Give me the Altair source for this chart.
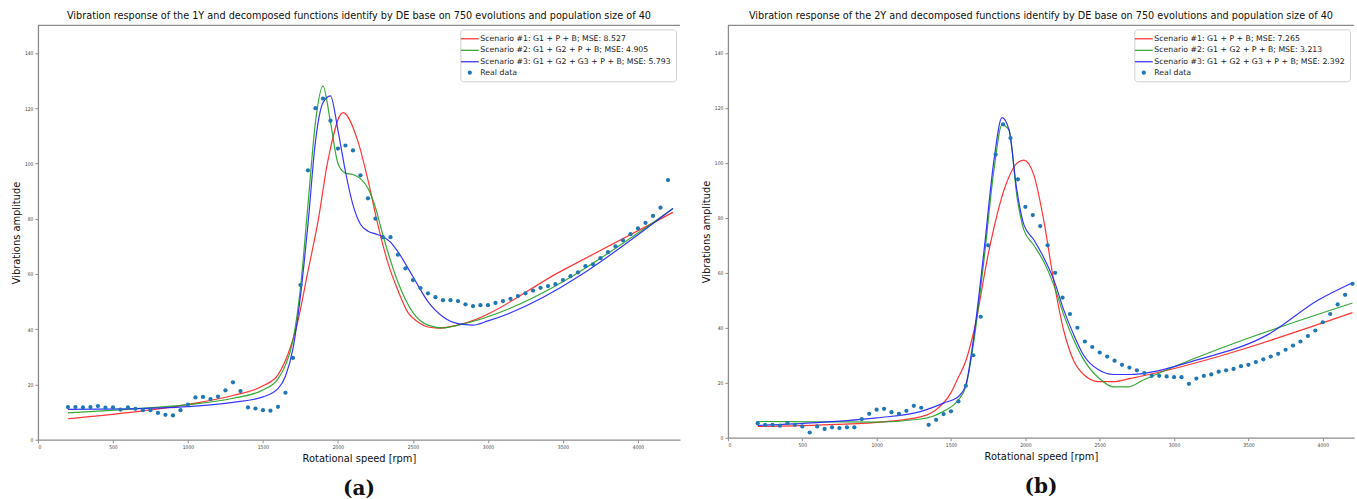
import altair as alt
import pandas as pd

# ---------------- data: panel (a) ----------------
rpm_a = list(range(200, 4201, 50))
real_a = [11.8, 11.8, 11.7, 11.8, 12.2, 11.6, 11.7, 10.9, 11.7, 11.2,
          10.7, 10.7, 9.7, 9.0, 8.8, 10.7, 12.7, 15.3, 15.5, 14.7,
          15.6, 17.9, 20.8, 17.6, 11.7, 11.3, 10.7, 10.5, 11.9, 17.0,
          29.6, 56, 97.5, 120, 123.5, 115.5, 105.4, 106.5, 104.7, 95.7,
          87.4, 80, 73.3, 73.3, 67, 62, 57.8, 54.9, 53, 51.6,
          50.5, 50.5, 50.2, 49, 48.4, 48.7, 48.7, 49.5, 50.2, 51,
          52, 53, 54, 55, 55.6, 56.3, 57.8, 59.2, 60.6, 62.8,
          63.5, 65.7, 67.9, 70, 72.2, 74.4, 76.5, 78.5, 81, 84, 94]

s1a_x = [200, 600, 1000, 1300, 1500, 1600, 1667, 1733, 1800, 1867, 1933, 2033,
         2133, 2200, 2267, 2333, 2400, 2467, 2533, 2600, 2667, 2800, 3500, 4233]
s1a_y = [7.6, 9.8, 12.8, 16, 19.5, 23.5, 31, 43, 61, 79, 101, 118.4,
         108, 94, 77.6, 64, 54, 46, 42.6, 40.8, 40.4, 41.5, 61.4, 82.3]
s2a_x = [200, 600, 1000, 1300, 1500, 1600, 1650, 1700, 1750, 1800, 1850, 1900,
         1950, 2000, 2050, 2100, 2150, 2200, 2250, 2300, 2400, 2500, 2600, 2700,
         2800, 4233]
s2a_y = [9.7, 11, 12.7, 15, 18, 22, 27, 36, 55, 85, 115, 128,
         115, 100, 96.5, 96, 94.5, 91, 84, 74, 57, 46, 41.5, 40.5,
         41.5, 83.7]
s3a_x = [200, 600, 1000, 1300, 1500, 1600, 1650, 1700, 1750, 1800, 1850, 1900,
         1950, 2000, 2050, 2100, 2150, 2200, 2250, 2300, 2350, 2400, 2500, 2600,
         2700, 2800, 2900, 3000, 4233]
s3a_y = [11, 11.2, 12, 13.5, 15.5, 18.5, 23, 33, 52, 78, 108, 122,
         124.5, 112, 97, 85, 78, 75.5, 74.5, 73.5, 71.5, 68, 59, 50,
         44.5, 42, 41.5, 43, 83.7]
labels_a = ["Scenario #1: G1 + P + B; MSE: 8.527",
            "Scenario #2: G1 + G2 + P + B; MSE: 4.905",
            "Scenario #3: G1 + G2 + G3 + P + B; MSE: 5.793",
            "Real data"]
title_a = ("Vibration response of the 1Y and decomposed functions identify by DE "
           "base on 750 evolutions and population size of 40")

# ---------------- data: panel (b) ----------------
rpm_b = list(range(200, 4201, 50))
real_b = [5.3, 4.7, 4.7, 4.4, 5.3, 4.7, 4.1, 1.9, 4.1, 3.2,
          3.8, 3.5, 3.8, 3.8, 6.8, 8.7, 10.2, 10.5, 9.3, 8.7,
          9.8, 11.6, 10.9, 4.7, 6.5, 8.6, 9.6, 13.2, 18.9, 30,
          44, 70, 103, 114, 109, 94, 84, 81, 77, 70,
          60, 51, 45, 40, 35, 33, 31, 29.5, 28, 26.5,
          25.5, 24.5, 23.5, 22.5, 22.5, 22.3, 22, 22, 19.6, 21.5,
          22.5, 23, 24, 24.5, 25, 26, 26.5, 27.5, 28.5, 29.5,
          30.5, 32, 33.5, 35, 37, 39, 42, 45, 48.5, 52, 56]

s1b_x = [200, 600, 1000, 1300, 1400, 1500, 1541, 1600, 1655, 1755, 1856, 1956,
         1990, 2057, 2124, 2191, 2258, 2325, 2392, 2492, 2593, 2700, 4200]
s1b_y = [4.1, 4.6, 5.6, 7.7, 10.2, 16.4, 21, 28, 39, 68, 90, 100.4,
         101, 95.6, 79, 57, 39, 28, 23, 20.4, 20.4, 21.5, 45.5]
s2b_x = [200, 600, 1000, 1300, 1450, 1550, 1600, 1655, 1722, 1789, 1843, 1890,
         1943, 1990, 2057, 2124, 2191, 2258, 2325, 2392, 2492, 2593, 2693, 2794,
         4200]
s2b_y = [5.9, 5.8, 5.7, 6.8, 9.6, 13.8, 18.7, 35.6, 64.7, 97.5, 113.8, 112,
         88, 75.6, 70, 64, 55.6, 44.7, 35.6, 28.4, 21.8, 18.5, 18.5, 21,
         49]
s3b_x = [200, 600, 1000, 1300, 1450, 1550, 1600, 1655, 1722, 1789, 1843, 1890,
         1943, 1990, 2057, 2124, 2191, 2258, 2325, 2392, 2492, 2593, 2693, 3162,
         3631, 3967, 4200]
s3b_y = [4.5, 5.5, 7.2, 9.6, 12.6, 15, 19.3, 37.5, 68, 101, 116.4, 112,
         90, 77.5, 72, 65.5, 57.5, 46.5, 37.5, 30, 24.7, 23, 23, 28.4,
         37.5, 50, 56.4]
labels_b = ["Scenario #1: G1 + P + B; MSE: 7.265",
            "Scenario #2: G1 + G2 + P + B; MSE: 3.213",
            "Scenario #3: G1 + G2 + G3 + P + B; MSE: 2.392",
            "Real data"]
title_b = ("Vibration response of the 2Y and decomposed functions identify by DE "
           "base on 750 evolutions and population size of 40")

x_ticks = [0, 500, 1000, 1500, 2000, 2500, 3000, 3500, 4000]
y_ticks = [0, 20, 40, 60, 80, 100, 120, 140]

FONT = "Liberation Sans Narrow, DejaVu Sans Condensed, Open Sans, sans-serif"
LEG_FONT = "DejaVu Sans"
LINE_PATH = "M-1.7,-0.11H1.7V0.11H-1.7Z"
COLORS = ["#ff2020", "#20a020", "#2020ff", "#1f77b4"]


def panel(title, rpm, real, curves, labels, tag, width, height, xmax):
    frames = []
    for name, (xs, ys) in zip(labels[:3], curves):
        frames.append(pd.DataFrame({"rpm": xs, "amp": ys, "series": name}))
    lines_df = pd.concat(frames, ignore_index=True)
    pts_df = pd.DataFrame({"rpm": rpm, "amp": real, "series": labels[3]})

    legend = alt.Legend(title=None, orient="top-right", offset=4,
                        strokeColor="#d0d0d0", fillColor="white", padding=4,
                        cornerRadius=3, labelFont=LEG_FONT, labelFontSize=7.8,
                        labelColor="#222", rowPadding=1.5, symbolStrokeWidth=0,
                        symbolOpacity=1, labelLimit=400, labelOffset=5)
    cscale = alt.Scale(domain=labels, range=COLORS)
    sscale = alt.Scale(domain=labels, range=[LINE_PATH] * 3 + ["circle"])
    zscale = alt.Scale(type="ordinal", domain=labels, range=[110, 110, 110, 18])
    lscale = alt.Scale(domain=labels[:3], range=COLORS[:3])

    xenc = alt.X("rpm:Q", scale=alt.Scale(domain=[0, xmax], nice=False, zero=True),
                 axis=alt.Axis(values=x_ticks, format="d",
                               title="Rotational speed [rpm]"))
    yenc = alt.Y("amp:Q", scale=alt.Scale(domain=[0, 150], nice=False),
                 axis=alt.Axis(values=y_ticks, format="d",
                               title="Vibrations amplitude"))

    lines = alt.Chart(lines_df).mark_line(strokeWidth=1.2, interpolate="monotone",
                                          opacity=0.9).encode(
        x=xenc, y=yenc,
        stroke=alt.Stroke("series:N", scale=lscale, legend=None))
    pts = alt.Chart(pts_df).mark_point(filled=True, opacity=1).encode(
        x=xenc, y=yenc,
        color=alt.Color("series:N", scale=cscale, legend=legend),
        shape=alt.Shape("series:N", scale=sscale, legend=legend),
        size=alt.Size("series:N", scale=zscale, legend=legend))
    top = alt.Chart(pd.DataFrame({"k": [0]})).mark_rule(
        color="#8c8c8c", strokeWidth=1.3).encode(
        x=alt.value(0), x2=alt.value(width), y=alt.value(0))
    tag_txt = alt.Chart(pd.DataFrame({"t": [tag]})).mark_text(
        font="DejaVu Serif", fontWeight="bold", fontSize=20, color="#111").encode(
        text="t:N", x=alt.value(width / 2), y=alt.value(height + 49))
    return alt.layer(lines, pts, top, tag_txt).properties(
        width=width, height=height,
        title=alt.TitleParams(title, font=FONT, fontSize=10.8, fontWeight="normal",
                              color="#111", anchor="middle", frame="group", offset=4))


left = panel(title_a, rpm_a, real_a,
             [(s1a_x, s1a_y), (s2a_x, s2a_y), (s3a_x, s3a_y)],
             labels_a, "(a)", 643, 415, 4280)
right = panel(title_b, rpm_b, real_b,
              [(s1b_x, s1b_y), (s2b_x, s2b_y), (s3b_x, s3b_y)],
              labels_b, "(b)", 627, 413, 4210)

chart = alt.hconcat(left, right, spacing=19).resolve_scale(
    color="independent", shape="independent", size="independent",
    stroke="independent"
).properties(
    padding={"left": 10, "top": 9, "right": 2, "bottom": 0},
    background="white"
).configure_view(stroke=None).configure_axis(
    grid=False, domainColor="#8c8c8c", domainWidth=1.3, tickColor="#8c8c8c",
    tickSize=3, labelFontSize=5, labelColor="#444", labelFont=FONT,
    labelPadding=2, titleFont=FONT, titleFontSize=11, titleFontWeight="normal",
    titleColor="#111", titlePadding=3
)

chart.save("out.html", embed_options={"renderer": "svg", "actions": False})
